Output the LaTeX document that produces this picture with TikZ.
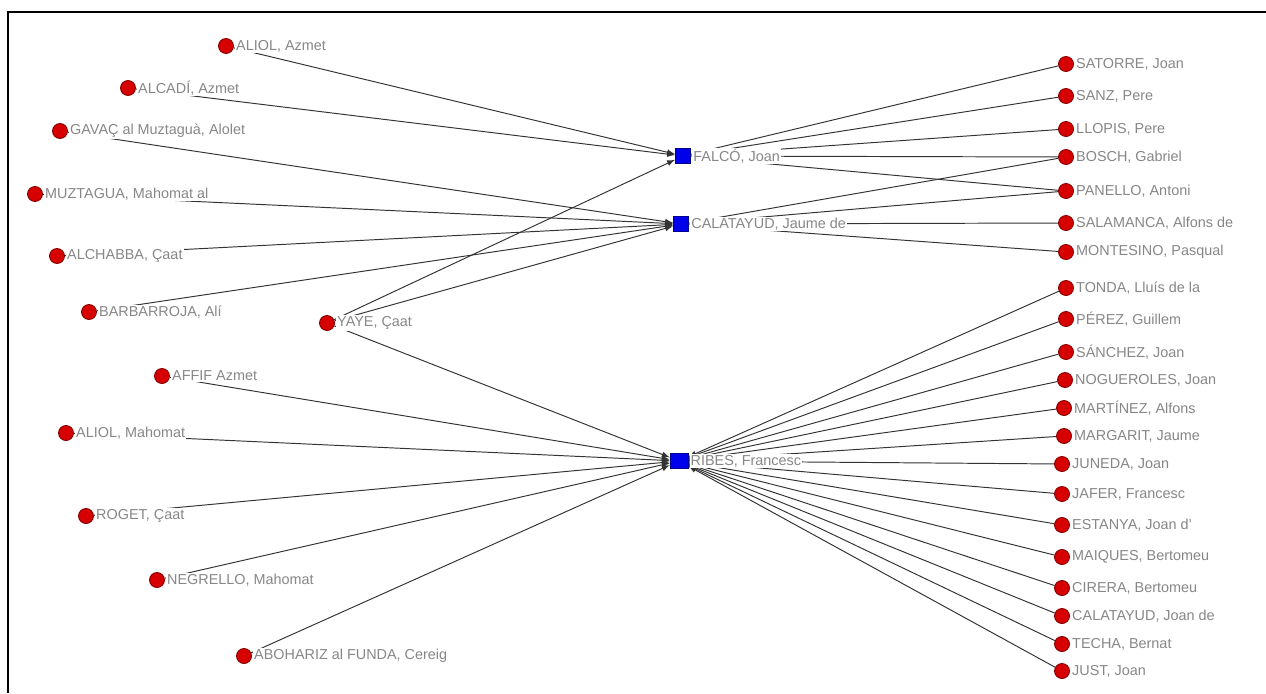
\documentclass[tikz,border=0pt]{standalone}
\usepackage{fontspec}
\setmainfont{Liberation Sans}
\usepackage{tikz}
\usetikzlibrary{arrows}
\usetikzlibrary{backgrounds}

\definecolor{nodered}{RGB}{215,0,0}
\definecolor{noderim}{RGB}{130,0,0}
\definecolor{hubblue}{RGB}{0,0,235}
\definecolor{namegray}{RGB}{135,135,135}

\begin{document}
\begin{tikzpicture}[x=0.02cm,y=-0.02cm,
			leaf node/.style={circle,fill=nodered,draw=noderim,line width=0.5pt,
				inner sep=0pt,minimum size=0.3cm},
			hub node/.style={rectangle,fill=hubblue,draw=hubblue!60!black,line width=0.4pt,
				inner sep=0pt,minimum size=0.31cm},
			name label/.style={font=\fontsize{8.2}{9}\selectfont,text=namegray,
				fill=white,inner sep=0.6pt,label distance=0.5pt},
			link/.style={->,>=latex,draw=black!80,line width=0.55pt}]
			
			\useasboundingbox (0,0) rectangle (1266,693);
			\draw[line width=1.6pt] (8,693) -- (8,12) -- (1266,12);
			
			% hubs
			\node[hub node,label={[name label]right:{FALCÓ, Joan}}] (falco) at (683,156) {};
			\node[hub node,label={[name label]right:{CALATAYUD, Jaume de}}] (calatayudJ) at (681,224) {};
			\node[hub node,minimum width=0.36cm,label={[name label]right:{RIBES, Francesc}}] (ribes) at (679,461) {};
			
			% left side
			\node[leaf node,label={[name label]right:{ALIOL, Azmet}}] (aliolA) at (226,46) {};
			\node[leaf node,label={[name label]right:{ALCADÍ, Azmet}}] (alcadi) at (128,88) {};
			\node[leaf node,label={[name label]right:{GAVAÇ al Muztaguà, Alolet}}] (gavac) at (60,131) {};
			\node[leaf node,label={[name label]right:{MUZTAGUA, Mahomat al}}] (muztagua) at (35,194) {};
			\node[leaf node,label={[name label]right:{ALCHABBA, Çaat}}] (alchabba) at (57,256) {};
			\node[leaf node,label={[name label]right:{BARBARROJA, Alí}}] (barbarroja) at (89,312) {};
			\node[leaf node,label={[name label]right:{YAYE, Çaat}}] (yaye) at (327,323) {};
			\node[leaf node,label={[name label]right:{AFFIF Azmet}}] (affif) at (162,376) {};
			\node[leaf node,label={[name label]right:{ALIOL, Mahomat}}] (aliolM) at (66,433) {};
			\node[leaf node,label={[name label]right:{ROGET, Çaat}}] (roget) at (86,516) {};
			\node[leaf node,label={[name label]right:{NEGRELLO, Mahomat}}] (negrello) at (157,580) {};
			\node[leaf node,label={[name label]right:{ABOHARIZ al FUNDA, Cereig}}] (abohariz) at (244,656) {};
			
			% right side
			\node[leaf node,label={[name label]right:{SATORRE, Joan}}] (satorre) at (1066,64) {};
			\node[leaf node,label={[name label]right:{SANZ, Pere}}] (sanz) at (1066,96) {};
			\node[leaf node,label={[name label]right:{LLOPIS, Pere}}] (llopis) at (1066,129) {};
			\node[leaf node,label={[name label]right:{BOSCH, Gabriel}}] (bosch) at (1066,157) {};
			\node[leaf node,label={[name label]right:{PANELLO, Antoni}}] (panello) at (1066,191) {};
			\node[leaf node,label={[name label]right:{SALAMANCA, Alfons de}}] (salamanca) at (1066,223) {};
			\node[leaf node,label={[name label]right:{MONTESINO, Pasqual}}] (montesino) at (1066,252) {};
			\node[leaf node,label={[name label]right:{TONDA, Lluís de la}}] (tonda) at (1066,288) {};
			\node[leaf node,label={[name label]right:{PÉREZ, Guillem}}] (perez) at (1066,319) {};
			\node[leaf node,label={[name label]right:{SÁNCHEZ, Joan}}] (sanchez) at (1066,352) {};
			\node[leaf node,label={[name label]right:{NOGUEROLES, Joan}}] (nogueroles) at (1065,380) {};
			\node[leaf node,label={[name label]right:{MARTÍNEZ, Alfons}}] (martinez) at (1064,408) {};
			\node[leaf node,label={[name label]right:{MARGARIT, Jaume}}] (margarit) at (1064,436) {};
			\node[leaf node,label={[name label]right:{JUNEDA, Joan}}] (juneda) at (1062,464) {};
			\node[leaf node,label={[name label]right:{JAFER, Francesc}}] (jafer) at (1062,494) {};
			\node[leaf node,label={[name label]right:{ESTANYA, Joan d'}}] (estanya) at (1062,525) {};
			\node[leaf node,label={[name label]right:{MAIQUES, Bertomeu}}] (maiques) at (1062,557) {};
			\node[leaf node,label={[name label]right:{CIRERA, Bertomeu}}] (cirera) at (1062,588) {};
			\node[leaf node,label={[name label]right:{CALATAYUD, Joan de}}] (calatayudJd) at (1062,616) {};
			\node[leaf node,label={[name label]right:{TECHA, Bernat}}] (techa) at (1062,644) {};
			\node[leaf node,label={[name label]right:{JUST, Joan}}] (just) at (1062,671) {};
			
			\begin{scope}[on background layer]
				\foreach \n in {aliolA,alcadi,yaye,satorre,sanz,llopis,bosch,panello}
					\draw[link] (\n) -- (falco);
				\foreach \n in {gavac,muztagua,alchabba,barbarroja,yaye,bosch,panello,salamanca,montesino}
					\draw[link] (\n) -- (calatayudJ);
				\foreach \n in {yaye,affif,aliolM,roget,negrello,abohariz,tonda,perez,sanchez,nogueroles,
						martinez,margarit,juneda,jafer,estanya,maiques,cirera,calatayudJd,techa,just}
					\draw[link] (\n) -- (ribes);
			\end{scope}
		\end{tikzpicture}
\end{document}
